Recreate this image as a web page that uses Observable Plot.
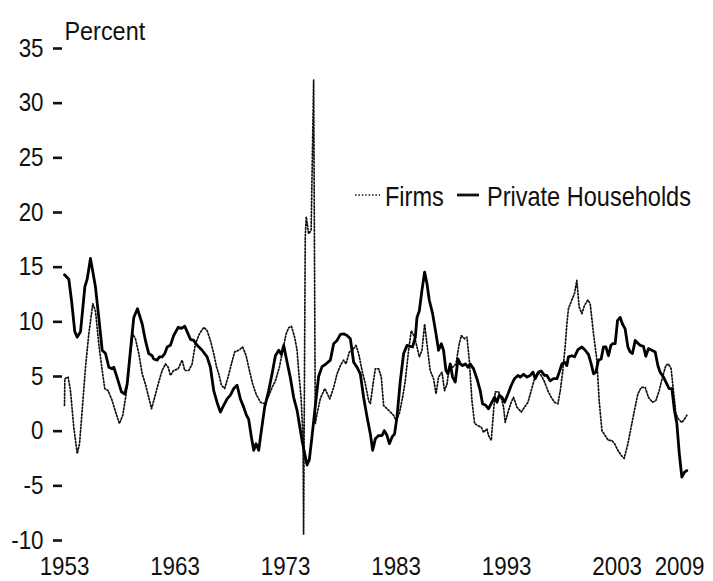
<!DOCTYPE html>
<html>
<head>
<meta charset="utf-8">
<script src="https://cdn.jsdelivr.net/npm/d3@7"></script>
<script src="https://cdn.jsdelivr.net/npm/@observablehq/plot@0.6"></script>
<style>
  html, body { margin: 0; padding: 0; background: #fff; }
  #wrap { position: relative; width: 713px; height: 581px; font-family: 'Liberation Sans', Arial, sans-serif; color: #111; }
  .lg { position: absolute; font-size: 28px; line-height: 28px; white-space: nowrap; transform: scaleX(0.84); transform-origin: 0 0; }
</style>
</head>
<body>
<div id="wrap"></div>
<script>
// Tick labels
const yTicks = [-10, -5, 0, 5, 10, 15, 20, 25, 30, 35];
const xTicks = [1953, 1963, 1973, 1983, 1993, 2003, 2009];
const seriesNames = ["Firms", "Private Households"];
const yUnit = "Percent";

// Private households: [year, percent]
const households = [
  [1953.0,14.3],[1953.39,13.9],[1953.63,12.0],[1953.93,9.1],[1954.15,8.6],[1954.45,9.1],[1954.84,13.2],[1955.05,13.9],
  [1955.35,15.8],[1955.80,13.2],[1956.10,10.4],[1956.41,7.4],[1956.71,7.1],[1957.01,5.85],[1957.31,5.7],[1957.46,5.85],
  [1957.76,4.9],[1958.15,3.6],[1958.45,3.4],[1958.67,4.3],[1958.97,7.4],[1959.27,10.4],[1959.60,11.2],[1960.03,9.8],
  [1960.32,8.3],[1960.62,7.1],[1960.93,6.9],[1961.07,6.6],[1961.38,6.5],[1961.59,6.8],[1961.83,6.8],[1962.07,7.1],
  [1962.29,7.7],[1962.58,7.85],[1962.88,8.75],[1963.28,9.5],[1963.58,9.4],[1963.88,9.6],[1964.18,8.9],[1964.39,8.4],
  [1964.69,8.3],[1965.00,7.85],[1965.45,7.4],[1965.90,6.8],[1966.20,5.85],[1966.50,3.7],[1966.81,2.6],[1967.10,1.75],
  [1967.40,2.35],[1967.71,2.95],[1968.01,3.3],[1968.31,3.9],[1968.61,4.2],[1968.91,2.95],[1969.21,2.2],[1969.46,1.45],
  [1969.66,1.1],[1969.91,-0.55],[1970.12,-1.75],[1970.33,-1.15],[1970.57,-1.75],[1970.81,0.05],[1971.11,2.2],[1971.47,3.7],
  [1971.78,5.25],[1972.08,6.9],[1972.38,7.4],[1972.62,7.0],[1972.83,7.85],[1973.14,6.3],[1973.43,4.9],[1973.73,3.1],
  [1974.04,1.9],[1974.49,-0.85],[1974.94,-3.1],[1975.15,-2.6],[1975.39,-0.5],[1975.69,2.3],[1975.99,5.0],[1976.30,5.9],
  [1976.60,6.1],[1977.05,6.5],[1977.35,8.0],[1977.66,8.3],[1977.96,8.85],[1978.25,8.9],[1978.56,8.75],[1978.86,8.45],
  [1979.16,6.3],[1979.46,5.85],[1979.76,5.25],[1980.06,3.1],[1980.37,1.3],[1980.67,-0.25],[1980.88,-1.75],[1981.12,-0.7],
  [1981.42,-0.4],[1981.73,-0.4],[1981.93,0.05],[1982.18,-0.4],[1982.39,-1.15],[1982.63,-0.55],[1982.86,-0.25],[1983.08,1.3],
  [1983.38,4.6],[1983.68,7.1],[1983.99,7.85],[1984.49,7.7],[1984.74,8.6],[1984.89,10.4],[1985.10,11.0],[1985.34,12.9],
  [1985.58,14.55],[1985.79,13.5],[1986.00,12.0],[1986.30,10.75],[1986.61,8.9],[1986.84,7.4],[1987.09,8.0],[1987.29,7.4],
  [1987.51,5.55],[1987.69,5.25],[1987.90,6.15],[1988.11,4.95],[1988.35,4.5],[1988.60,6.6],[1988.81,6.15],[1989.01,6.0],
  [1989.26,6.15],[1989.50,5.85],[1989.71,6.15],[1990.01,5.7],[1990.31,4.8],[1990.61,3.7],[1990.82,2.5],[1991.07,2.4],
  [1991.36,2.05],[1991.67,2.65],[1991.91,3.1],[1992.12,2.65],[1992.33,3.3],[1992.58,3.1],[1992.81,2.65],[1993.12,3.4],
  [1993.42,4.2],[1993.71,4.8],[1994.02,5.1],[1994.23,4.95],[1994.53,5.2],[1994.84,4.95],[1995.13,5.1],[1995.38,5.4],
  [1995.59,4.8],[1995.88,5.4],[1996.13,5.5],[1996.43,5.1],[1996.64,5.1],[1996.94,4.6],[1997.24,4.8],[1997.55,4.8],
  [1997.76,5.4],[1998.00,6.15],[1998.24,6.3],[1998.45,6.0],[1998.59,6.8],[1998.90,6.9],[1999.14,6.8],[1999.45,7.45],
  [1999.81,7.7],[2000.11,7.4],[2000.41,7.0],[2000.65,6.15],[2000.86,5.25],[2001.07,5.4],[2001.31,6.5],[2001.55,6.6],
  [2001.76,7.7],[2001.98,7.7],[2002.21,6.9],[2002.43,7.85],[2002.61,8.0],[2002.82,8.0],[2003.03,10.1],[2003.27,10.4],
  [2003.48,9.8],[2003.72,9.35],[2003.97,7.7],[2004.17,7.25],[2004.38,7.1],[2004.63,8.3],[2004.87,8.05],[2005.08,7.85],
  [2005.38,7.75],[2005.59,6.85],[2005.83,7.55],[2006.14,7.4],[2006.44,7.25],[2006.68,6.0],[2006.88,5.4],[2007.19,4.95],
  [2007.50,4.3],[2007.70,3.9],[2007.95,3.9],[2008.18,1.9],[2008.40,0.7],[2008.62,-2.05],[2008.85,-4.2],[2009.09,-3.75],
  [2009.30,-3.6]
];

// Firms: [year, percent]
const firms = [
  [1953.0,2.35],[1953.03,4.8],[1953.33,4.95],[1953.54,3.7],[1953.84,0.35],[1954.15,-2.05],[1954.36,-1.15],[1954.60,1.9],
  [1954.90,5.85],[1955.20,8.9],[1955.56,11.65],[1955.80,11.0],[1956.10,8.0],[1956.41,5.55],[1956.64,3.9],[1956.95,3.7],
  [1957.31,2.8],[1957.67,1.6],[1957.97,0.7],[1958.27,1.45],[1958.58,3.4],[1958.88,6.5],[1959.18,8.9],[1959.42,8.45],
  [1959.72,7.1],[1960.03,5.25],[1960.32,4.3],[1960.62,3.1],[1960.87,2.05],[1961.16,3.1],[1961.47,4.3],[1961.83,5.55],
  [1962.13,6.15],[1962.38,5.85],[1962.58,5.1],[1962.88,5.55],[1963.28,5.7],[1963.64,6.5],[1963.88,5.55],[1964.24,5.55],
  [1964.55,6.15],[1964.84,8.0],[1965.21,8.9],[1965.60,9.5],[1965.90,9.2],[1966.20,8.3],[1966.50,7.1],[1966.75,5.9],
  [1966.95,5.25],[1967.20,4.2],[1967.49,3.9],[1967.80,4.95],[1968.10,6.15],[1968.40,7.25],[1968.76,7.4],[1969.12,7.7],
  [1969.43,6.9],[1969.73,5.55],[1970.03,4.3],[1970.33,3.4],[1970.72,2.65],[1971.11,2.5],[1971.42,3.1],[1971.78,4.0],
  [1972.08,4.6],[1972.44,5.85],[1972.74,7.4],[1973.05,8.9],[1973.28,9.45],[1973.53,9.6],[1973.82,8.6],[1974.04,7.4],
  [1974.18,5.55],[1974.40,3.1],[1974.58,-0.55],[1974.63,-9.4],[1974.78,17.75],[1974.87,19.6],[1975.09,18.05],[1975.31,18.35],
  [1975.54,32.1],[1975.69,0.7],[1975.85,1.6],[1976.15,3.0],[1976.55,3.9],[1977.0,2.95],[1977.35,4.0],[1977.66,5.25],
  [1977.96,6.0],[1978.25,6.5],[1978.47,6.15],[1978.77,7.25],[1979.07,7.4],[1979.37,7.85],[1979.61,7.1],[1979.92,5.55],
  [1980.22,4.3],[1980.51,2.8],[1980.67,2.5],[1980.91,4.3],[1981.12,5.7],[1981.42,5.7],[1981.66,4.95],[1981.87,2.35],
  [1982.18,2.05],[1982.48,1.75],[1982.77,1.45],[1982.99,1.0],[1983.29,1.6],[1983.59,3.1],[1983.83,4.6],[1984.13,7.4],
  [1984.37,9.2],[1984.67,8.6],[1984.89,7.7],[1985.10,6.8],[1985.34,7.4],[1985.58,9.8],[1985.79,8.0],[1986.08,5.55],
  [1986.39,4.8],[1986.61,3.4],[1986.84,4.95],[1987.15,5.4],[1987.38,3.7],[1987.60,4.3],[1987.81,5.85],[1988.11,5.85],
  [1988.42,6.15],[1988.71,8.0],[1988.90,8.75],[1989.19,8.45],[1989.41,8.6],[1989.62,6.5],[1989.86,2.8],[1990.10,0.7],
  [1990.41,0.5],[1990.71,0.35],[1990.91,-0.1],[1991.22,0.2],[1991.36,-0.4],[1991.61,-0.85],[1991.82,1.9],[1991.97,3.6],
  [1992.27,3.6],[1992.58,2.8],[1992.72,2.2],[1992.87,0.8],[1993.17,1.9],[1993.42,2.65],[1993.62,3.1],[1993.93,2.2],
  [1994.32,1.75],[1994.62,2.2],[1994.93,2.65],[1995.22,3.7],[1995.52,4.8],[1995.83,5.4],[1996.13,5.1],[1996.43,4.5],
  [1996.73,3.7],[1997.03,3.1],[1997.33,2.65],[1997.64,2.5],[1997.85,3.7],[1998.05,5.25],[1998.30,7.8],[1998.45,9.8],
  [1998.59,11.2],[1998.90,12.0],[1999.14,12.6],[1999.35,13.8],[1999.56,11.35],[1999.81,10.75],[2000.04,11.5],[2000.35,12.0],
  [2000.56,11.65],[2000.86,8.9],[2001.16,6.5],[2001.37,2.8],[2001.62,0.05],[2001.91,-0.4],[2002.21,-0.85],[2002.52,-0.85],
  [2002.76,-1.15],[2003.06,-1.75],[2003.36,-2.2],[2003.63,-2.5],[2003.97,-1.15],[2004.26,0.35],[2004.56,1.9],[2004.87,3.4],
  [2005.17,4.0],[2005.53,4.0],[2005.83,3.1],[2006.19,2.65],[2006.50,2.8],[2006.80,3.7],[2007.10,4.95],[2007.40,6.0],
  [2007.64,6.15],[2007.88,5.7],[2008.09,3.7],[2008.31,1.6],[2008.54,1.1],[2008.85,0.8],[2009.09,1.1],[2009.30,1.45]
];

const FONT = "'Liberation Sans', Arial, sans-serif";

const chart = Plot.plot({
  width: 713,
  height: 581,
  marginLeft: 62,
  marginRight: 30,
  marginTop: 48,
  marginBottom: 41,
  style: { fontFamily: FONT, fontSize: "26px", color: "#111", background: "#fff", overflow: "visible" },
  x: { domain: [1953, 2009], insetLeft: 2 },
  y: { domain: [-10, 35] },
  marks: [
    Plot.axisY(yTicks, { tickSize: 9, tickPadding: 10, strokeWidth: 2.6, label: null, fontSize: 26, tickFormat: d => String(d) }),
    Plot.axisX(xTicks, { tickSize: 0, tickPadding: 16.5, label: null, tickFormat: d => String(d), fontSize: 26 }),
    Plot.text([yUnit], { frameAnchor: "top-left", textAnchor: "start", lineAnchor: "bottom", dx: 2, dy: -9, fontSize: 26 }),
    Plot.line(firms, { x: d => d[0], y: d => d[1], stroke: "#111", strokeWidth: 1.7, strokeDasharray: "1.5,1.9" }),
    Plot.line(households, { x: d => d[0], y: d => d[1], stroke: "#000", strokeWidth: 2.8 })
  ]
});

const wrap = document.getElementById("wrap");
wrap.appendChild(chart);

// Condense the text horizontally to mimic the narrow typeface of the original
chart.querySelectorAll("text").forEach(t => {
  const len = t.getComputedTextLength();
  if (!len) return;
  const f = t.textContent === yUnit ? 0.9 : 0.86;
  t.setAttribute("textLength", (len * f).toFixed(2));
  t.setAttribute("lengthAdjust", "spacingAndGlyphs");
  if (t.textContent === String(xTicks[xTicks.length - 1])) t.setAttribute("dx", "-4");
});

// Legend overlay
function legendItem(left, lineLeft, lineWidth, dashed, label) {
  const ns = "http://www.w3.org/2000/svg";
  const s = document.createElementNS(ns, "svg");
  s.setAttribute("width", lineWidth);
  s.setAttribute("height", 6);
  s.style.position = "absolute";
  s.style.left = lineLeft + "px";
  s.style.top = "192px";
  const l = document.createElementNS(ns, "line");
  l.setAttribute("x1", 0); l.setAttribute("x2", lineWidth);
  l.setAttribute("y1", 3); l.setAttribute("y2", 3);
  l.setAttribute("stroke", "#111");
  l.setAttribute("stroke-width", dashed ? 1.7 : 2.8);
  if (dashed) l.setAttribute("stroke-dasharray", "1.5,1.9");
  s.appendChild(l);
  wrap.appendChild(s);
  const t = document.createElement("div");
  t.className = "lg";
  t.style.left = left + "px";
  t.style.top = "183px";
  t.textContent = label;
  wrap.appendChild(t);
}
legendItem(385, 355, 25, true, seriesNames[0]);
legendItem(487, 457, 22, false, seriesNames[1]);
</script>
</body>
</html>
